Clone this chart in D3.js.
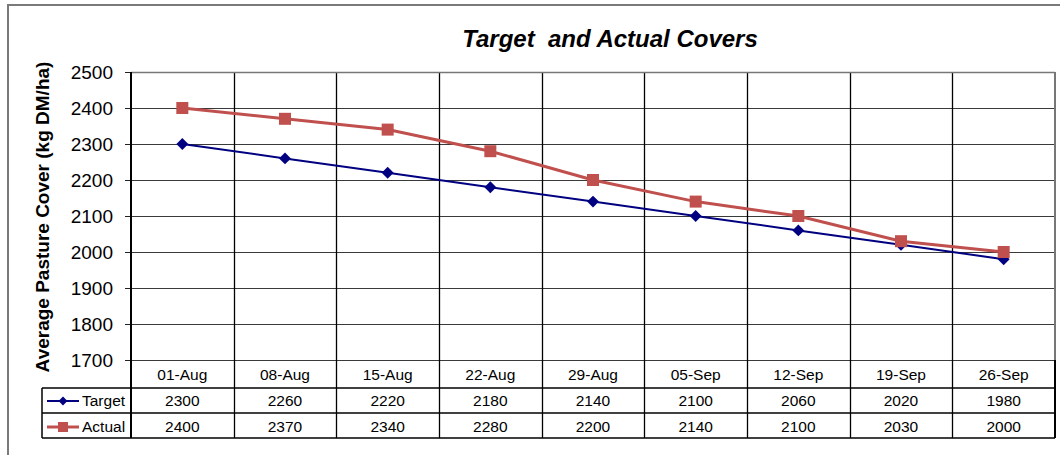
<!DOCTYPE html>
<html><head><meta charset="utf-8">
<script src="https://cdn.jsdelivr.net/npm/d3@7"></script>
<style>
body{margin:0;background:#fff;}
svg{display:block;font-family:"Liberation Sans",Arial,sans-serif;}
</style></head>
<body>
<svg id="c" width="1060" height="455"></svg>
<script>
const categories = ["01-Aug","08-Aug","15-Aug","22-Aug","29-Aug","05-Sep","12-Sep","19-Sep","26-Sep"];
const targetValues = [2300,2260,2220,2180,2140,2100,2060,2020,1980];
const actualValues = [2400,2370,2340,2280,2200,2140,2100,2030,2000];
const yTicks = [1700,1800,1900,2000,2100,2200,2300,2400,2500];
const seriesNames = ["Target","Actual"];
const titleText = "Target  and Actual Covers";
const yTitle = "Average Pasture Cover (kg DM/ha)";

const svg = d3.select("#c");
const L = 131, R = 1055, T = 72, B = 360;
const rowCat = 388, rowT = 413, rowA = 438, legL = 42;

const x = d3.scaleBand().domain(categories).range([L, R]).padding(0);
const y = d3.scaleLinear().domain([1700, 2500]).range([B, T]);
const cx = d => x(d) + x.bandwidth() / 2;

// outer frame
svg.append("rect").attr("x", 8).attr("y", 5).attr("width", 1070).attr("height", 470)
  .attr("fill", "none").attr("stroke", "#7a7a7a").attr("stroke-width", 2);

// title
svg.append("text").attr("x", 610).attr("y", 47).attr("text-anchor", "middle")
  .style("font-size", "24px").style("font-weight", "bold").style("font-style", "italic")
  .style("white-space", "pre").text(titleText);

// y title
svg.append("text").attr("transform", "translate(49,217) rotate(-90)").attr("text-anchor", "middle")
  .style("font-size", "19px").style("font-weight", "bold").text(yTitle);

// horizontal gridlines + y axis
const yAxis = d3.axisLeft(y).tickValues(yTicks).tickSize(6).tickPadding(12).tickFormat(d3.format("d"));
const ga = svg.append("g").attr("transform", `translate(${L},0)`).call(yAxis);
ga.select(".domain").remove();
ga.selectAll(".tick line").attr("stroke", "#222").attr("x2", -6);
ga.selectAll(".tick text").style("font-size", "19px").attr("fill", "#000").attr("dy", "0.36em");
svg.append("g").selectAll("line").data(yTicks).join("line")
  .attr("x1", L).attr("x2", R).attr("y1", d => Math.round(y(d)) + 0.5).attr("y2", d => Math.round(y(d)) + 0.5)
  .attr("stroke", "#3a3a3a").attr("stroke-width", 1);

// vertical gridlines through plot and table
const vx = categories.slice(1).map(c => x(c));
svg.append("g").selectAll("line").data(vx).join("line")
  .attr("x1", d => Math.round(d) + 0.5).attr("x2", d => Math.round(d) + 0.5)
  .attr("y1", T).attr("y2", rowA).attr("stroke", "#000").attr("stroke-width", 1.3);

// plot area border right/top in gray
svg.append("line").attr("x1", L).attr("x2", R).attr("y1", T + 0.5).attr("y2", T + 0.5).attr("stroke", "#777").attr("stroke-width", 1.5);
svg.append("line").attr("x1", R).attr("x2", R).attr("y1", T).attr("y2", B).attr("stroke", "#777").attr("stroke-width", 2);
svg.append("line").attr("x1", R).attr("x2", R).attr("y1", B).attr("y2", rowA).attr("stroke", "#000").attr("stroke-width", 2);

// table lines
[rowCat, rowT, rowA].forEach(ry => {
  svg.append("line").attr("x1", legL).attr("x2", R).attr("y1", ry).attr("y2", ry).attr("stroke", "#000").attr("stroke-width", 1.5);
});
svg.append("line").attr("x1", legL).attr("x2", legL).attr("y1", rowCat).attr("y2", rowA).attr("stroke", "#000").attr("stroke-width", 1.5);
// axis line
svg.append("line").attr("x1", L).attr("x2", L).attr("y1", T).attr("y2", rowA).attr("stroke", "#000").attr("stroke-width", 2);

// category labels
svg.append("g").selectAll("text").data(categories).join("text")
  .attr("x", d => cx(d)).attr("y", 380).attr("text-anchor", "middle").style("font-size", "15.5px").text(d => d);

// table values
const rows = [
  {name: seriesNames[0], vals: targetValues, yb: 406, color: "#000080", shape: "diamond"},
  {name: seriesNames[1], vals: actualValues, yb: 432, color: "#C0504D", shape: "square"}
];
rows.forEach(r => {
  svg.append("g").selectAll("text").data(r.vals).join("text")
    .attr("x", (d, i) => cx(categories[i])).attr("y", r.yb).attr("text-anchor", "middle")
    .style("font-size", "15.5px").text(d => d);
  const my = r.yb - 5;
  svg.append("line").attr("x1", 47).attr("x2", 79).attr("y1", my).attr("y2", my)
    .attr("stroke", r.color).attr("stroke-width", r.shape === "square" ? 3 : 2);
  if (r.shape === "square") svg.append("rect").attr("x", 63 - 5).attr("y", my - 5).attr("width", 10).attr("height", 10).attr("fill", r.color);
  else svg.append("path").attr("d", d3.symbol(d3.symbolDiamond2, 50)()).attr("transform", `translate(63,${my})`).attr("fill", r.color);
  svg.append("text").attr("x", 82).attr("y", r.yb).style("font-size", "15.5px").text(r.name);
});

// lines
const line = d3.line().x((d, i) => cx(categories[i])).y(d => y(d));
svg.append("path").datum(targetValues).attr("d", line).attr("fill", "none").attr("stroke", "#000080").attr("stroke-width", 2);
svg.append("path").datum(actualValues).attr("d", line).attr("fill", "none").attr("stroke", "#C0504D").attr("stroke-width", 3);

svg.append("g").selectAll("path").data(targetValues).join("path")
  .attr("d", d3.symbol(d3.symbolDiamond2, 90)())
  .attr("transform", (d, i) => `translate(${cx(categories[i])},${y(d)})`).attr("fill", "#000080");
svg.append("g").selectAll("rect").data(actualValues).join("rect")
  .attr("x", (d, i) => cx(categories[i]) - 6).attr("y", d => y(d) - 6).attr("width", 12).attr("height", 12)
  .attr("fill", "#C0504D");
</script>
</body></html>
